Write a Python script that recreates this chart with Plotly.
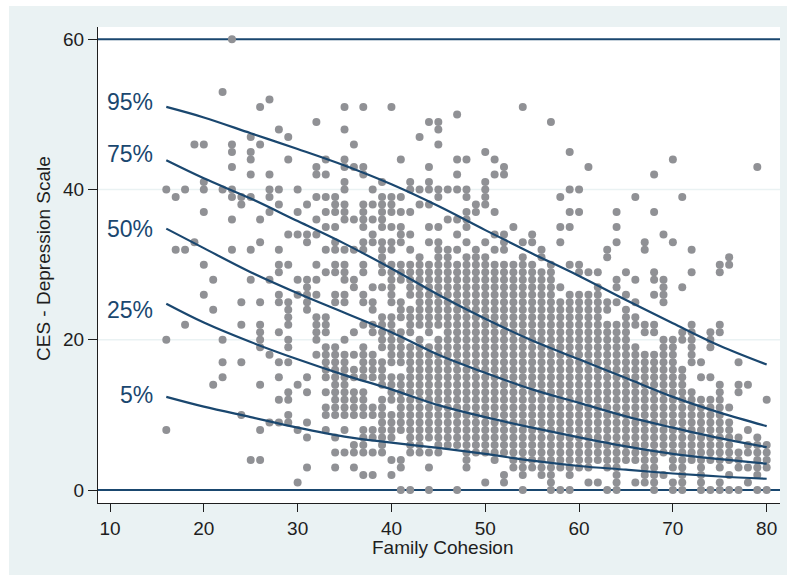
import plotly.graph_objects as go

# ---------------- data ----------------
cohesion_values = list(range(16, 81))
# CES depression scores observed at each family-cohesion value ("a-b" = every integer from a to b)
depression_by_cohesion = [
    "40,20,8",                                   # 16
    "39,32",                                     # 17
    "40,32,22",                                  # 18
    "46,33",                                     # 19
    "46,41,40,37,30,26",                         # 20
    "28,24,14",                                  # 21
    "53,40,20,17,15",                            # 22
    "60,46,45,43,40,39,36,32",                   # 23
    "39,38,25,22,17,10",                         # 24
    "47,45,44,42,39,32,28,4",                    # 25
    "51,46,36,33,25,22-19,14,8,4",               # 26
    "52,42,40,39,37,28,18,9",                    # 27
    "48,40,38,32,30,29,26,25,21,17,15,12,9",     # 28
    "47,44,34,30,25-22,20,19,17,13,12,10,9",     # 29
    "40,37,34,28,26,14,8,1",                     # 30
    "38,34,33,28,27-24,15,13,9,7,3",             # 31
    "49,43,42,39,36,34,30,28,26,23-20,18",       # 32
    "44,42,39,37,35,32,29,23-21,19-15,13,11,10,8",  # 33
    "39,38,37,35,33,32,30,29,26,25,19-10,7,5,3",    # 34
    "51,48,44,43,41,40,38-36,32,30-28,26,25,20,18-10,8,5",  # 35
    "46,43,36,32,28,27,21,18,16,15,13-10,6,5,3",    # 36
    "51,43,42,38-35,33,32,30,29,26,25,22,19-15,13-10,8-5,2",  # 37
    "40,38,36,34,33,27,25,24,22,21,18-15,11,10,8,7,5,2",  # 38
    "41,39-35,33-29,27,23-19,17-14,12-5",        # 39
    "51,39-37,35,33,32,30-25,23-17,15-12,10-7,4,2",  # 40
    "44,39,37,35-33,30-28,25-23,21-17,15-8,4,3,0",   # 41
    "41,40,37,34,32,30-26,24-21,19-5,0",         # 42
    "47,40,38,31-22,20-5",                       # 43
    "49,43,41,40,38,35,33,30-21,19-7,5,3,0",     # 44
    "49,48,46,40,39,35,33-22,20-5",              # 45
    "40,36,32-6",                                # 46
    "50,44,42,40,36,34,32,30-6,0",               # 47
    "44,40,39,37-35,33,31-3",                    # 48
    "38,37,32-5",                                # 49
    "45,41-38,33,31-5,1",                        # 50
    "44,42,37,34,32,30-4",                       # 51
    "43,42,34-32,30-5,2,1",                      # 52
    "35,30-3",                                   # 53
    "51,33,31-2,0",                              # 54
    "34,33,30-3",                                # 55
    "32,31,29-2",                                # 56
    "49,30-0",                                   # 57
    "39,35,33,27,25-3,0",                        # 58
    "45,40,37,35,30,26-2,0",                     # 59
    "40,37,30,29,26-3",                          # 60
    "43,29,26-3,1",                              # 61
    "29,27-4,1",                                 # 62
    "32,31,25,24,22-3,0",                        # 63
    "37,35,33,28,27,25,22-1,0",                  # 64
    "29,26,24-4",                                # 65
    "39,28,25,23,22,19-4,1",                     # 66
    "33,32,22,21,18-1",                          # 67
    "42,37,29,28,26,22,21,18-0",                 # 68
    "34,28-25,20-5,2",                           # 69
    "44,33,20-3,1,0",                            # 70
    "39,27,21,20,16-1,0",                        # 71
    "32,29,22-17,13-4",                          # 72
    "17,15,12-1,0",                              # 73
    "21-19,15,12-4,0",                           # 74
    "30,29,22,21,14-3,1,0",                      # 75
    "31,30,11,9-4,2,0",                          # 76
    "17,14,13,7,5-3,0",                          # 77
    "14,8,6,5,3,1",                              # 78
    "43,7-2,0",                                  # 79
    "12,6-3,0",                                  # 80
]

# fitted quantile curves
curve_x = [16, 20, 25, 30, 35, 40, 45, 50, 55, 60, 65, 70, 75, 80]
q95 = [51.0, 49.6, 47.5, 45.4, 43.2, 40.7, 37.8, 34.6, 31.5, 28.5, 25.3, 22.2, 19.2, 16.7]
q75 = [43.9, 41.5, 38.8, 35.8, 32.8, 29.5, 26.0, 22.8, 19.9, 17.4, 14.9, 12.4, 10.3, 8.5]
q50 = [34.8, 32.2, 29.0, 26.2, 23.6, 21.0, 18.0, 15.6, 13.4, 11.6, 9.8, 8.3, 6.9, 5.7]
q25 = [24.8, 22.3, 19.7, 17.4, 15.3, 13.4, 11.3, 9.7, 8.3, 7.0, 5.8, 4.8, 4.1, 3.5]
q05 = [12.4, 11.1, 9.7, 8.3, 7.1, 6.3, 5.6, 4.8, 3.9, 3.2, 2.7, 2.2, 1.8, 1.5]
quantile_labels = ["95%", "75%", "50%", "25%", "5%"]
label_y = [51.7, 44.7, 34.7, 23.9, 12.7]
label_x = 14.72

ref_lines = [0, 60]
grid_lines = [20, 40]
x_ticks = [10, 20, 30, 40, 50, 60, 70, 80]
y_ticks = [0, 20, 40, 60]


def parse(spec):
    vals = []
    for part in spec.split(","):
        part = part.strip()
        if "-" in part:
            a, b = (int(p) for p in part.split("-"))
            vals.extend(range(min(a, b), max(a, b) + 1))
        else:
            vals.append(int(part))
    return vals


xs, ys = [], []
for xv, spec in zip(cohesion_values, depression_by_cohesion):
    for yv in parse(spec):
        xs.append(xv)
        ys.append(yv)

NAVY = "#1a476f"
BG = "#eaf2f3"
FONT = "Liberation Sans, Arial, Helvetica, sans-serif"

fig = go.Figure()
fig.add_trace(go.Scatter(
    x=xs, y=ys, mode="markers",
    marker=dict(size=8, color="#909195", line=dict(width=0)),
    hoverinfo="skip", showlegend=False,
))
for q in [q95, q75, q50, q25, q05]:
    fig.add_trace(go.Scatter(
        x=curve_x, y=q, mode="lines",
        line=dict(color=NAVY, width=2.2, shape="spline", smoothing=1.0),
        hoverinfo="skip", showlegend=False,
    ))

shapes = []
# white strips outside the light background panel
shapes.append(dict(type="rect", xref="paper", yref="paper",
                   x0=-0.2, x1=(9 - 98) / 682, y0=-0.2, y1=1.2,
                   fillcolor="white", line=dict(width=0), layer="below"))
shapes.append(dict(type="rect", xref="paper", yref="paper",
                   x0=-0.2, x1=1.2, y0=(503 - 6) / 476, y1=1.2,
                   fillcolor="white", line=dict(width=0), layer="below"))
for yv in grid_lines:
    shapes.append(dict(type="line", xref="paper", yref="y",
                       x0=0, x1=1, y0=yv, y1=yv,
                       line=dict(color=BG, width=1.5), layer="below"))
for yv in ref_lines:
    shapes.append(dict(type="line", xref="paper", yref="y",
                       x0=0, x1=1, y0=yv, y1=yv,
                       line=dict(color=NAVY, width=2), layer="below"))

annotations = []
for lab, ly in zip(quantile_labels, label_y):
    annotations.append(dict(x=label_x, y=ly, xref="x", yref="y", text=lab,
                            showarrow=False, xanchor="right", yanchor="middle",
                            borderpad=0,
                            font=dict(family=FONT, size=23, color=NAVY)))
annotations.append(dict(x=(443 - 98) / 682, y=(503 - 547) / 476,
                        xref="paper", yref="paper", text="Family Cohesion",
                        showarrow=False, xanchor="center", yanchor="middle",
                        font=dict(family=FONT, size=19, color="#1e1e1e")))
annotations.append(dict(x=(43 - 98) / 682, y=(503 - 259) / 476,
                        xref="paper", yref="paper", text="CES - Depression Scale",
                        textangle=-90, showarrow=False,
                        xanchor="center", yanchor="middle",
                        font=dict(family=FONT, size=19, color="#1e1e1e")))

fig.update_layout(
    width=787, height=575,
    margin=dict(l=98, r=7, t=27, b=72, pad=0),
    paper_bgcolor=BG, plot_bgcolor="white",
    font=dict(family=FONT, size=19, color="#1e1e1e"),
    shapes=shapes, annotations=annotations,
    xaxis=dict(range=[8.72, 81.42], tickvals=x_ticks, ticks="outside",
               ticklen=8, tickwidth=1, tickcolor="#1e1e1e",
               showgrid=False, zeroline=False, showline=True,
               linecolor="#1e1e1e", linewidth=1,
               tickfont=dict(family=FONT, size=19, color="#1e1e1e")),
    yaxis=dict(range=[-1.73, 61.64], tickvals=y_ticks, ticks="outside",
               ticklen=9, tickwidth=1, tickcolor="#1e1e1e",
               showgrid=False, zeroline=False, showline=True,
               linecolor="#1e1e1e", linewidth=1,
               tickfont=dict(family=FONT, size=19, color="#1e1e1e")),
)

fig.write_html("out.html")
